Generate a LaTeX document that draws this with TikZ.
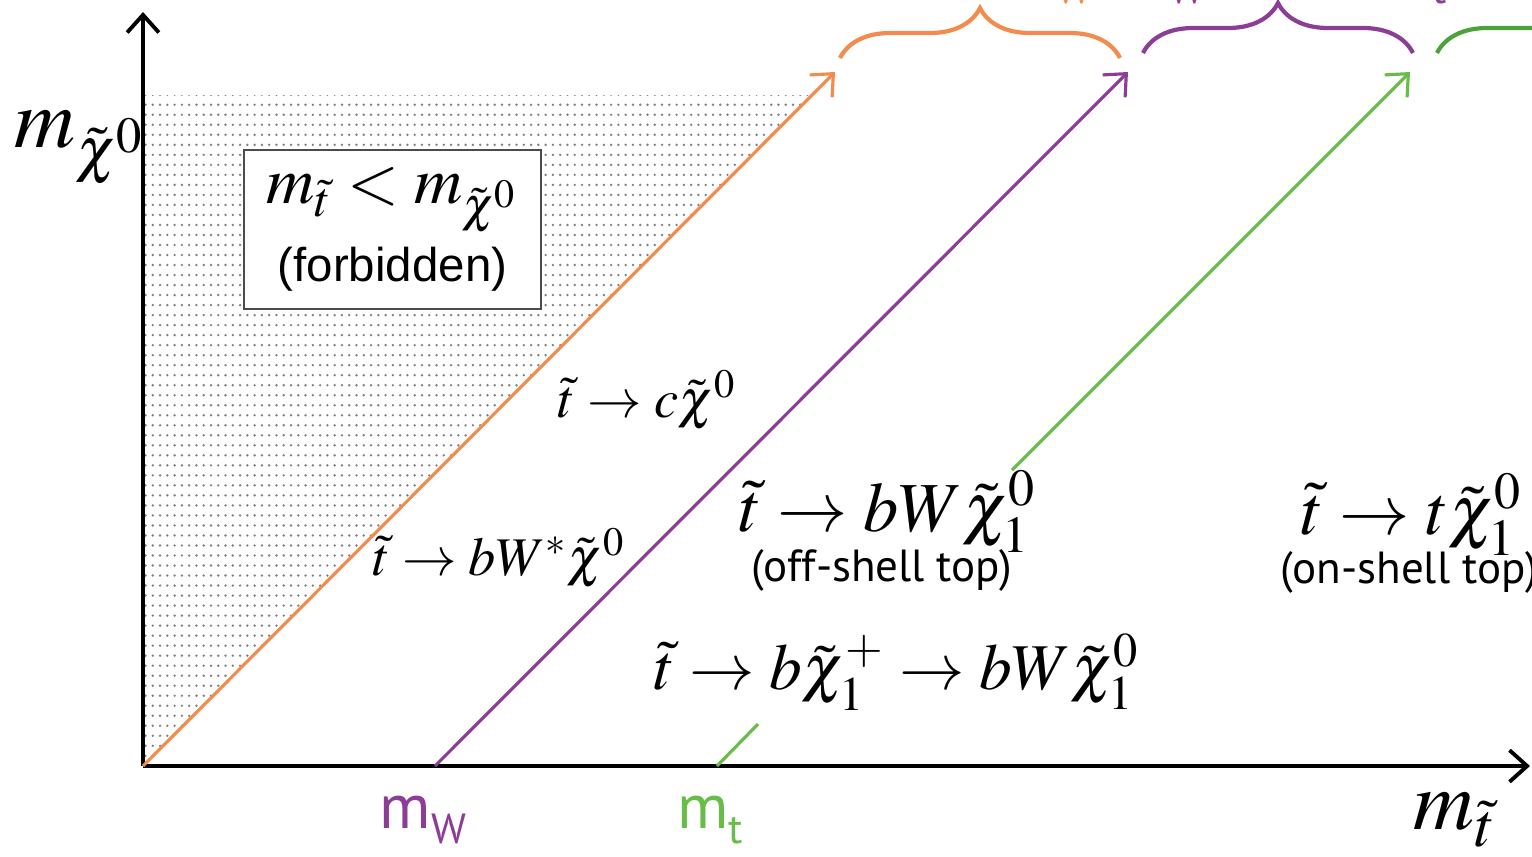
\documentclass[tikz,border=0pt]{standalone}
\usepackage{mathptmx}
\usepackage[no-math]{fontspec}
\setsansfont{Liberation Sans}
\newfontfamily\labelfont{PT Sans}
\usetikzlibrary{arrows.meta,decorations.pathreplacing,patterns}
\definecolor{decOrange}{RGB}{242,140,78}
\definecolor{decPurple}{RGB}{140,62,150}
\definecolor{decGreen}{RGB}{104,188,72}
\definecolor{braceGreen}{RGB}{78,162,58}
\pgfdeclarepatternformonly{stopdots}{\pgfqpoint{-0.6pt}{-0.6pt}}{\pgfqpoint{1.5pt}{2.3pt}}{\pgfqpoint{2.07pt}{2.85pt}}{\pgfpathcircle{\pgfqpoint{0pt}{0pt}}{0.38pt}\pgfusepath{fill}}
\newcommand{\lowsub}[1]{\raisebox{-0.25em}{\fontsize{12}{12}\selectfont #1}}

\begin{document}
\begin{tikzpicture}[>={Straight Barb[length=5pt,width=9pt]}, line width=0.9pt]
    \tikzstyle{decay}=[->, line width=0.9pt]
    \tikzstyle{bracket}=[decorate, decoration={brace, amplitude=0.5cm}, line width=1.2pt]
    \tikzstyle{bigmath}=[inner sep=0pt, font=\fontsize{20}{24}\selectfont]
    \tikzstyle{smallmath}=[inner sep=0pt, font=\fontsize{15.5}{18}\selectfont]
    \tikzstyle{note}=[inner sep=0pt, font=\labelfont\fontsize{12.8}{15}\selectfont]
    \tikzstyle{masslbl}=[inner sep=0pt, font=\labelfont\fontsize{18}{18}\selectfont]
    \tikzstyle{rangelbl}=[inner sep=0pt, anchor=base east, font=\labelfont\fontsize{15}{15}\selectfont]
    \useasboundingbox (0,0) rectangle (15.32,8.56);
    \clip (0,0) rectangle (15.32,8.56);
    \coordinate (O) at (1.43,0.90);
    \coordinate (ytip) at (1.43,8.44);
    \coordinate (xtip) at (15.30,0.90);
    \coordinate (mw) at (4.35,0.90);
    \coordinate (mt) at (7.17,0.90);
    \coordinate (cend) at (8.35,7.84);
    \coordinate (wend) at (11.28,7.84);
    \coordinate (gcut1) at (7.58,1.32);
    \coordinate (gcut2) at (10.12,3.86);
    \coordinate (tend) at (14.10,7.84);
    \fill[pattern=stopdots, pattern color=gray] (O) -- (1.43,7.61) -- (8.14,7.61) -- cycle;
    \node[draw=black!70, fill=white, line width=0.6pt, minimum width=2.97cm, minimum height=1.59cm, align=center] (forbid) at (3.925,6.265)
      {\fontsize{19}{22}\selectfont $m_{\tilde t} < m_{\tilde\chi^0}$\\[3pt] \sffamily\fontsize{13.5}{16}\selectfont (forbidden)};
    \draw[->, line width=1.1pt] (O) -- (ytip);
    \draw[->, line width=1.1pt] (O) -- (xtip);
    \draw[decay, decOrange] (O) -- (cend);
    \draw[decay, decPurple] (mw) -- (wend);
    \draw[line width=0.9pt, decGreen] (mt) -- (gcut1);
    \draw[decay, decGreen] (gcut2) -- (tend);
    \draw[bracket, decOrange] (8.40,7.98) -- (11.20,7.98);
    \draw[bracket, decPurple] (11.43,8.03) -- (14.13,8.03);
    \draw[bracket, braceGreen] (14.37,8.03) -- (17.17,8.03);
    \node[rangelbl, text=decOrange] (dmlow) at (10.93,8.66) {$\Delta$m < m\lowsub{W}};
    \node[rangelbl, text=decPurple] (dmmid) at (14.48,8.66) {m\lowsub{W} < $\Delta$m < m\lowsub{t}};
    \node[font=\fontsize{24}{24}\selectfont] (ylab) at (0.80,7.08) {$m_{\tilde\chi^0}$};
    \node[font=\fontsize{24}{24}\selectfont] (xlab) at (14.55,0.36) {$m_{\tilde t}$};
    \node[masslbl, text=decPurple] (mwlab) at (4.23,0.36) {m\lowsub{W}};
    \node[masslbl, text=decGreen] (mtlab) at (7.10,0.36) {m\lowsub{t}};
    \node[smallmath] (cdecay) at (6.47,4.56) {$\tilde t \rightarrow c\tilde\chi^0$};
    \node[smallmath] (bwstar) at (4.99,2.98) {$\tilde t \rightarrow bW^*\tilde\chi^0$};
    \node[bigmath] (offshell) at (8.88,3.44) {$\tilde t \rightarrow bW\tilde\chi^0_1$};
    \node[note] (offnote) at (8.82,2.86) {(off-shell top)};
    \node[bigmath] (onshell) at (14.12,3.41) {$\tilde t \rightarrow t\tilde\chi^0_1$};
    \node[note] (onnote) at (14.09,2.84) {(on-shell top)};
    \node[bigmath, font=\fontsize{18.6}{22}\selectfont] (chargino) at (8.97,1.84) {$\tilde t \rightarrow b\tilde\chi^+_1 \rightarrow bW\tilde\chi^0_1$};
\end{tikzpicture}
\end{document}
